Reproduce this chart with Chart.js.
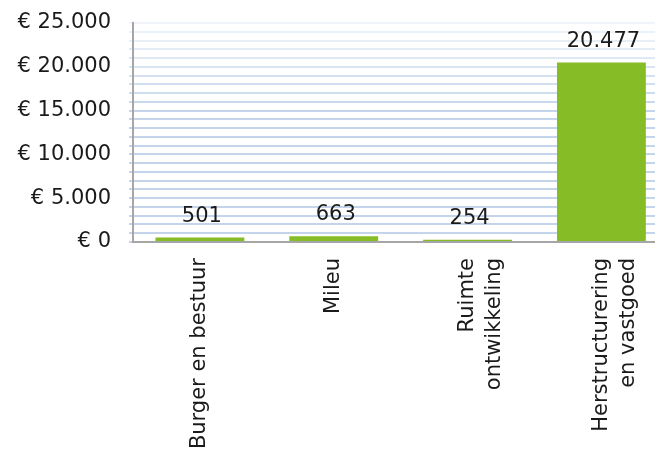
<!DOCTYPE html>
<html>
<head>
<meta charset="utf-8">
<script src="https://cdn.jsdelivr.net/npm/chart.js@4"></script>
<style>
html, body { margin: 0; padding: 0; background: #fff; overflow: hidden; }
#wrap { width: 655px; height: 449px; overflow: hidden; }
</style>
</head>
<body>
<div id="wrap"><canvas id="barChart" width="672" height="449"></canvas></div>
<script>
var categories = [["Burger en bestuur"], ["Mileu"], ["Ruimte", "ontwikkeling"], ["Herstructurering", "en vastgoed"]];
var amounts = [501, 663, 254, 20477];
var yTicks = [0, 5000, 10000, 15000, 20000, 25000];

function fmt(n) {
    return String(n).replace(/\B(?=(\d{3})+(?!\d))/g, ".");
}

// waarde boven elke staaf
var valueLabels = {
    id: 'valueLabels',
    afterDatasetsDraw: function (chart) {
        var ctx = chart.ctx;
        var meta = chart.getDatasetMeta(0);
        ctx.save();
        ctx.font = '21px "DejaVu Sans"';
        ctx.fillStyle = '#1a1a1a';
        ctx.textAlign = 'center';
        ctx.textBaseline = 'alphabetic';
        meta.data.forEach(function (bar, i) {
            ctx.fillText(fmt(amounts[i]), bar.x + 2, bar.y - 16);
        });
        ctx.restore();
    }
};

var ctx = document.getElementById("barChart");
var barChart = new Chart(ctx, {
    type: 'bar',
    data: {
        labels: categories,
        datasets: [{
            data: amounts,
            backgroundColor: "#86bc25",
            barPercentage: 0.664,
            categoryPercentage: 1
        }]
    },
    options: {
        responsive: false,
        animation: false,
        layout: { padding: 0 },
        plugins: {
            legend: { display: false },
            tooltip: { enabled: false }
        },
        scales: {
            x: {
                grid: { display: false, drawTicks: false },
                border: { color: '#a6a6a6', width: 2 },
                ticks: {
                    autoSkip: false,
                    minRotation: 90,
                    maxRotation: 90,
                    padding: 16,
                    color: '#1a1a1a',
                    font: { family: 'DejaVu Sans', size: 21, lineHeight: 1.3 }
                },
                afterFit: function (scale) { scale.height = 207; }
            },
            y: {
                min: 0,
                max: 25000,
                border: { color: '#a6a6a6', width: 2 },
                grid: {
                    lineWidth: 2,
                    tickLength: 4,
                    color: function (c) {
                        var v = c.tick ? c.tick.value : 0;
                        var a = Math.min(0.85, 0.2 + (25000 - v) / 10000 * 0.65);
                        return 'rgba(186, 206, 232, ' + a.toFixed(2) + ')';
                    }
                },
                ticks: {
                    stepSize: 1000,
                    autoSkip: false,
                    padding: 18,
                    color: '#1a1a1a',
                    font: { family: 'DejaVu Sans', size: 21 },
                    callback: function (value) {
                        return yTicks.indexOf(value) >= 0 ? '€ ' + fmt(value) : '';
                    }
                },
                afterFit: function (scale) {
                    scale.width = 133;
                    scale.paddingTop = 23;
                    scale.paddingBottom = 0;
                }
            }
        }
    },
    plugins: [valueLabels]
});
</script>
</body>
</html>
